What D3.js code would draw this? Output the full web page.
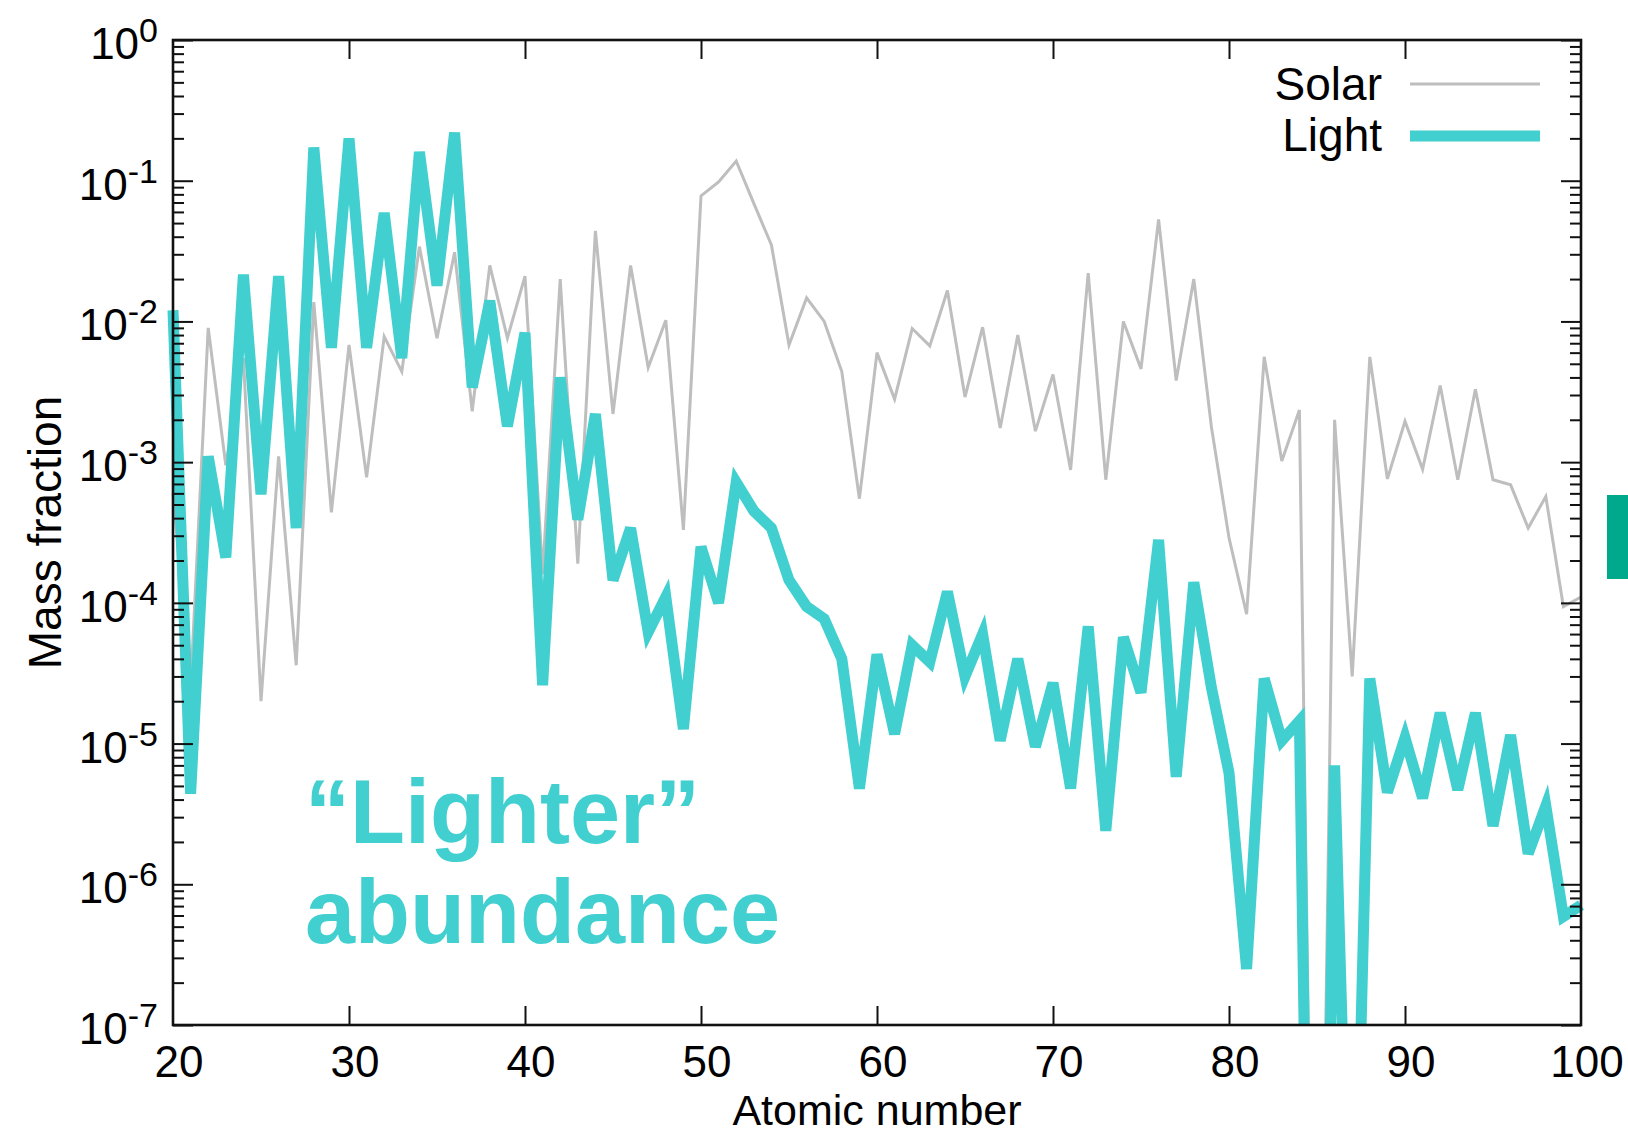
<!DOCTYPE html>
<html>
<head>
<meta charset="utf-8">
<script src="https://cdn.jsdelivr.net/npm/d3@7/dist/d3.min.js"></script>
<style>
  html, body { margin: 0; padding: 0; background: #fff; }
  svg { display: block; font-family: "Liberation Sans", Arial, Helvetica, sans-serif; }
</style>
</head>
<body>
<svg id="chart" width="1628" height="1135"></svg>
<script>
// Atomic numbers on the x axis
const atomicNumbers = [
  20, 21, 22, 23, 24, 25, 26, 27, 28, 29,
  30, 31, 32, 33, 34, 35, 36, 37, 38, 39,
  40, 41, 42, 43, 44, 45, 46, 47, 48, 49,
  50, 51, 52, 53, 54, 55, 56, 57, 58, 59,
  60, 61, 62, 63, 64, 65, 66, 67, 68, 69,
  70, 71, 72, 73, 74, 75, 76, 77, 78, 79,
  80, 81, 82, 83, 84, 85, 86, 87, 88, 89,
  90, 91, 92, 93, 94, 95, 96, 97, 98, 99,
  100
];

// Solar mass fractions, one per atomic number
const solarValues = [
  6e-4, 2.5e-5, 9e-3, 9.5e-4, 5.5e-3, 2.0e-5, 1.1e-3, 3.6e-5, 1.37e-2, 4.4e-4,
  6.8e-3, 7.8e-4, 7.8e-3, 4.4e-3, 3.4e-2, 7.6e-3, 3.1e-2, 2.3e-3, 2.5e-2, 7.6e-3,
  2.1e-2, 1.6e-4, 2.0e-2, 1.9e-4, 4.4e-2, 2.2e-3, 2.5e-2, 4.7e-3, 1.02e-2, 3.3e-4,
  7.8e-2, 9.8e-2, 0.138, 6.9e-2, 3.5e-2, 6.8e-3, 1.47e-2, 1.0e-2, 4.4e-3, 5.5e-4,
  6.0e-3, 2.8e-3, 8.9e-3, 6.7e-3, 1.66e-2, 2.9e-3, 9.1e-3, 1.75e-3, 8.0e-3, 1.66e-3,
  4.2e-3, 8.8e-4, 2.2e-2, 7.5e-4, 1.0e-2, 4.6e-3, 5.3e-2, 3.8e-3, 2.0e-2, 1.78e-3,
  2.9e-4, 8.3e-5, 5.6e-3, 1.02e-3, 2.35e-3, 5e-12, 2.0e-3, 3.0e-5, 5.6e-3, 7.6e-4,
  1.95e-3, 8.9e-4, 3.5e-3, 7.5e-4, 3.3e-3, 7.5e-4, 6.9e-4, 3.4e-4, 5.7e-4, 9.4e-5,
  1.1e-4
];

// "Light" mass fractions, one per atomic number
const lightValues = [
  1.2e-2, 4.4e-6, 1.1e-3, 2.1e-4, 2.15e-2, 5.9e-4, 2.1e-2, 3.4e-4, 0.172, 6.5e-3,
  0.2, 6.5e-3, 5.9e-2, 5.5e-3, 0.16, 1.8e-2, 0.22, 3.4e-3, 1.4e-2, 1.8e-3,
  8.3e-3, 2.6e-5, 4.0e-3, 3.9e-4, 2.2e-3, 1.45e-4, 3.4e-4, 6.2e-5, 1.1e-4, 1.27e-5,
  2.5e-4, 1.0e-4, 7.2e-4, 4.5e-4, 3.4e-4, 1.45e-4, 9.4e-5, 7.7e-5, 4.0e-5, 4.8e-6,
  4.3e-5, 1.17e-5, 5.0e-5, 3.8e-5, 1.2e-4, 3.0e-5, 6.0e-5, 1.05e-5, 4.0e-5, 9.5e-6,
  2.7e-5, 4.8e-6, 6.8e-5, 2.4e-6, 5.7e-5, 2.3e-5, 2.8e-4, 5.8e-6, 1.4e-4, 2.5e-5,
  6.2e-6, 2.5e-7, 2.9e-5, 1.05e-5, 1.45e-5, 1e-13, 7.0e-6, 3e-10, 2.9e-5, 4.5e-6,
  1.1e-5, 4.1e-6, 1.65e-5, 4.7e-6, 1.65e-5, 2.6e-6, 1.15e-5, 1.65e-6, 3.6e-6, 5.9e-7,
  7.1e-7
];

// Axis ticks and labels
const xTickValues = [20, 30, 40, 50, 60, 70, 80, 90, 100];
const yTickExponents = [0, -1, -2, -3, -4, -5, -6, -7];
const seriesNames = ["Solar", "Light"];
const xTitle = "Atomic number";
const yTitle = "Mass fraction";
const noteLines = ["\u201CLighter\u201D", "abundance"];

// ---- layout ----
const plot = { left: 173, right: 1581, top: 40, bottom: 1025 };
const solarColor = "#bebebe";
const lightColor = "#41cfd0";
const axisColor = "#111";

const svg = d3.select("#chart");

const x = d3.scaleLinear().domain([20, 100]).range([plot.left, plot.right]);
const y = d3.scaleLog().domain([1e-7, 1]).range([plot.bottom, plot.top]);

const majorY = yTickExponents.map(e => Math.pow(10, e));
const minorY = [];
yTickExponents.slice(1).forEach(e => {
  for (let m = 2; m <= 9; m++) minorY.push(m * Math.pow(10, e));
});

// clip so that lines running below 1e-7 are cut at the bottom axis
svg.append("defs").append("clipPath").attr("id", "plotClip")
  .append("rect").attr("x", 0).attr("y", 0)
  .attr("width", 1628).attr("height", plot.bottom);

// ---- data lines ----
const line = d3.line()
  .x((d, i) => x(atomicNumbers[i]))
  .y(d => y(d));

const lines = svg.append("g").attr("clip-path", "url(#plotClip)");

lines.append("path")
  .datum(solarValues)
  .attr("d", line)
  .attr("fill", "none")
  .attr("stroke", solarColor)
  .attr("stroke-width", 3)
  .attr("stroke-linejoin", "miter");

lines.append("path")
  .datum(lightValues)
  .attr("d", line)
  .attr("fill", "none")
  .attr("stroke", lightColor)
  .attr("stroke-width", 11)
  .attr("stroke-linejoin", "miter");

// ---- axes (ticks point inward on all four sides) ----
function styleAxis(g) {
  g.select(".domain").remove();
  g.selectAll(".tick line").attr("stroke", axisColor).attr("stroke-width", 2);
  g.selectAll(".tick text").remove();
}

svg.append("g").attr("transform", `translate(${plot.left},0)`)
  .call(d3.axisLeft(y).tickValues(majorY).tickSize(-20).tickFormat(""))
  .call(styleAxis);
svg.append("g").attr("transform", `translate(${plot.left},0)`)
  .call(d3.axisLeft(y).tickValues(minorY).tickSize(-11).tickFormat(""))
  .call(styleAxis);
svg.append("g").attr("transform", `translate(${plot.right},0)`)
  .call(d3.axisRight(y).tickValues(majorY).tickSize(-20).tickFormat(""))
  .call(styleAxis);
svg.append("g").attr("transform", `translate(${plot.right},0)`)
  .call(d3.axisRight(y).tickValues(minorY).tickSize(-11).tickFormat(""))
  .call(styleAxis);
svg.append("g").attr("transform", `translate(0,${plot.bottom})`)
  .call(d3.axisBottom(x).tickValues(xTickValues.slice(1, -1)).tickSize(-19).tickFormat(""))
  .call(styleAxis);
svg.append("g").attr("transform", `translate(0,${plot.top})`)
  .call(d3.axisTop(x).tickValues(xTickValues.slice(1, -1)).tickSize(-19).tickFormat(""))
  .call(styleAxis);

// frame
svg.append("rect")
  .attr("x", plot.left).attr("y", plot.top)
  .attr("width", plot.right - plot.left).attr("height", plot.bottom - plot.top)
  .attr("fill", "none").attr("stroke", axisColor).attr("stroke-width", 2.6);

// ---- tick labels ----
const yLabels = svg.append("g").attr("fill", "#000");
yTickExponents.forEach(e => {
  const t = yLabels.append("text")
    .attr("x", 158)
    .attr("y", y(Math.pow(10, e)) + 19)
    .attr("text-anchor", "end")
    .attr("font-size", 44);
  t.append("tspan").text("10");
  t.append("tspan").attr("dy", -17).attr("font-size", 34).text(String(e));
});

svg.append("g").selectAll("text")
  .data(xTickValues)
  .join("text")
  .attr("x", d => x(d) + 6)
  .attr("y", plot.bottom + 52)
  .attr("text-anchor", "middle")
  .attr("font-size", 44)
  .attr("fill", "#000")
  .text(d => d);

// ---- axis titles ----
svg.append("text")
  .attr("x", (plot.left + plot.right) / 2)
  .attr("y", 1125)
  .attr("text-anchor", "middle")
  .attr("font-size", 43)
  .attr("fill", "#000")
  .text(xTitle);

svg.append("text")
  .attr("transform", `translate(61,${(plot.top + plot.bottom) / 2}) rotate(-90)`)
  .attr("text-anchor", "middle")
  .attr("font-size", 46)
  .attr("fill", "#000")
  .text(yTitle);

// ---- legend ----
const legend = svg.append("g");
const legendRows = [
  { name: seriesNames[0], color: solarColor, width: 3, ty: 100, ly: 84 },
  { name: seriesNames[1], color: lightColor, width: 11, ty: 151, ly: 136 }
];
legendRows.forEach(r => {
  legend.append("text")
    .attr("x", 1382).attr("y", r.ty)
    .attr("text-anchor", "end")
    .attr("font-size", 46)
    .attr("fill", "#000")
    .text(r.name);
  legend.append("line")
    .attr("x1", 1410).attr("x2", 1540)
    .attr("y1", r.ly).attr("y2", r.ly)
    .attr("stroke", r.color)
    .attr("stroke-width", r.width);
});

// ---- annotation ----
const note = svg.append("text")
  .attr("font-size", 90)
  .attr("font-weight", "bold")
  .attr("fill", lightColor);
note.append("tspan").attr("x", 305).attr("y", 843).text(noteLines[0]);
note.append("tspan").attr("x", 305).attr("y", 943).text(noteLines[1]);

// side marker at the right edge
svg.append("rect")
  .attr("x", 1607).attr("y", 495)
  .attr("width", 21).attr("height", 84)
  .attr("fill", "#00a98b");
</script>
</body>
</html>
